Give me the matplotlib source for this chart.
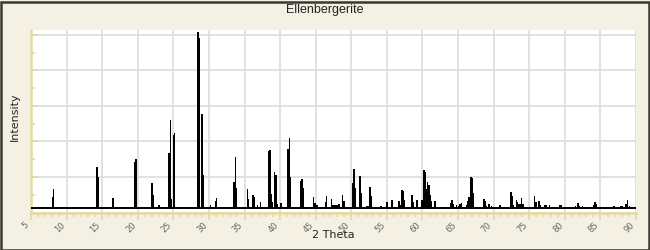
import matplotlib
matplotlib.use("Agg")
import matplotlib.pyplot as plt
from matplotlib.patches import Rectangle
from matplotlib.ticker import MultipleLocator, NullFormatter

title = "Ellenbergerite"
x_label = "2 Theta"
y_label = "Intensity"
baseline = 2.4

two_theta = [8.1, 8.2, 14.3, 14.45, 16.5, 16.6, 19.6, 19.75, 22.0, 22.15, 23.0,
             24.4, 24.57, 24.7, 25.02, 25.15, 28.46, 28.65, 28.95, 29.05, 29.2,
             30.2, 30.9, 31.05, 33.52, 33.7, 33.85, 35.4, 35.55, 36.2, 36.4, 36.85,
             37.25, 38.35, 38.55, 38.7, 38.9, 39.2, 39.4, 39.55, 40.1, 41.1, 41.3,
             41.45, 42.85, 43.05, 43.2, 44.65, 44.9, 45.2, 46.35, 46.5, 47.2, 47.4,
             47.7, 48.0, 48.3, 48.8, 48.95, 50.25, 50.4, 50.6, 51.2, 51.4, 52.2,
             52.4, 52.65, 52.8, 54.2, 55.0, 55.7, 56.7, 56.85, 57.15, 57.3, 57.5,
             58.55, 58.7, 59.25, 59.95, 60.2, 60.35, 60.55, 60.7, 60.9, 61.05,
             61.25, 61.75, 63.0, 64.0, 64.15, 64.3, 64.75, 65.1, 65.3, 65.5, 66.2,
             66.35, 66.55, 66.7, 66.8, 66.95, 67.1, 68.65, 68.8, 69.0, 69.3, 69.45,
             69.7, 70.0, 70.9, 71.9, 72.45, 72.6, 72.75, 73.2, 73.35, 73.5, 73.7,
             73.9, 74.1, 75.75, 75.9, 76.05, 76.3, 76.45, 76.6, 77.2, 77.35, 77.85,
             79.3, 79.45, 81.5, 81.75, 81.9, 82.1, 82.5, 84.1, 84.25, 84.45, 85.1,
             86.9, 87.9, 88.1, 88.6, 88.8, 89.1]
intensity = [8.7, 13.2, 25.6, 20, 8.2, 6.5, 28.6, 30, 16.6, 10, 4.2,
             33.5, 52, 7.8, 43.8, 44.8, 101.7, 98.3, 21.9, 55.5, 21.3,
             4.2, 6.5, 8.2, 17.2, 31.3, 14, 13.2, 7.5, 9.9, 8.7, 4.2,
             6, 34.6, 35.2, 10.6, 6, 22.8, 21.3, 5, 5.4, 35.8, 42,
             20, 17.7, 18.9, 13.8, 8.7, 5.4, 4.2, 6, 9.3, 7.6, 4,
             4, 4, 4.8, 9.9, 6.5, 16.6, 24.5, 13.8, 20.6, 11, 3.5,
             3.5, 14.4, 9.3, 3.5, 6, 7, 6.5, 4, 12.7, 12.1, 7,
             9.9, 6, 7, 7, 23.9, 22.8, 13.2, 17.2, 15.5, 9.9,
             6.5, 6.5, 3, 5.4, 7, 4.8, 4.2, 3.5, 4.8, 5.4, 4.2,
             6.5, 8.7, 5, 20, 19.4, 11, 7.6, 6.5, 3.5, 4.8, 4.8,
             3.5, 3, 4.2, 3, 11.6, 9.3, 4.2, 7, 6, 4.8, 4.8,
             8.2, 4.8, 9.3, 6, 6, 6.5, 6.5, 4.2, 4.2, 4.2, 4.2,
             4.2, 4.2, 3.5, 5.4, 5.4, 3.5, 3.5, 4.2, 6, 4.8, 3,
             3.5, 3.5, 3.5, 4.8, 7, 3.5]

bg = "#F4F1E4"
axis_col = "#E2DCA0"
grid_col = "#DCDCDC"

fig = plt.figure(figsize=(6.5, 2.5), dpi=100, facecolor=bg)
ax = fig.add_axes([31 / 650, 1 - 212.5 / 250, 605 / 650, 182.5 / 250])
ax.set_facecolor("white")

heights = [h - baseline for h in intensity]
ax.bar(two_theta, heights, bottom=baseline, width=0.2, color="black",
       linewidth=0, zorder=3)
ax.axhline(baseline, color="black", lw=1.4, zorder=3)

ax.set_xlim(5, 90)
ax.set_ylim(0, 102.8)
ax.xaxis.set_major_locator(MultipleLocator(5))
ax.xaxis.set_minor_locator(MultipleLocator(1))
ax.yaxis.set_major_locator(MultipleLocator(20))
ax.yaxis.set_minor_locator(MultipleLocator(10))
ax.yaxis.set_major_formatter(NullFormatter())
ax.grid(True, which="major", color=grid_col, lw=1.2, zorder=1)

for s in ["top", "right"]:
    ax.spines[s].set_visible(False)
for s in ["left", "bottom"]:
    ax.spines[s].set_color(axis_col)
    ax.spines[s].set_linewidth(1.8)

ax.tick_params(axis="y", which="major", direction="in", length=5, width=1.2,
               color=axis_col)
ax.tick_params(axis="y", which="minor", direction="in", length=3, width=1.2,
               color=axis_col)
ax.tick_params(axis="x", which="major", direction="out", length=5, width=1.2,
               color=axis_col, labelsize=6, labelcolor="#666666", pad=1)
ax.tick_params(axis="x", which="minor", direction="out", length=3, width=1.2,
               color=axis_col)
for lab in ax.get_xticklabels():
    lab.set_rotation(45)
    lab.set_ha("right")
    lab.set_va("top")
    lab.set_family("DejaVu Sans")

fig.text(333.5 / 650, 1 - 235.5 / 250, x_label, ha="center", va="center",
         fontsize=8, color="#222222", family="DejaVu Sans")
fig.text(15 / 650, 1 - 117 / 250, y_label, ha="center", va="center",
         rotation=90, fontsize=8, color="#222222", family="DejaVu Sans")
fig.text(0.4995, 1 - 10 / 250, title, ha="center", va="center",
         fontsize=9, color="#222222", family="Liberation Sans")

fig.patches.append(Rectangle((0.5 / 650, 0.5 / 250), 648 / 650, 248 / 250,
                             transform=fig.transFigure, fill=False,
                             edgecolor="#3A3830", lw=1.8, zorder=10))

fig.savefig("out.png", dpi=100, facecolor=bg)
